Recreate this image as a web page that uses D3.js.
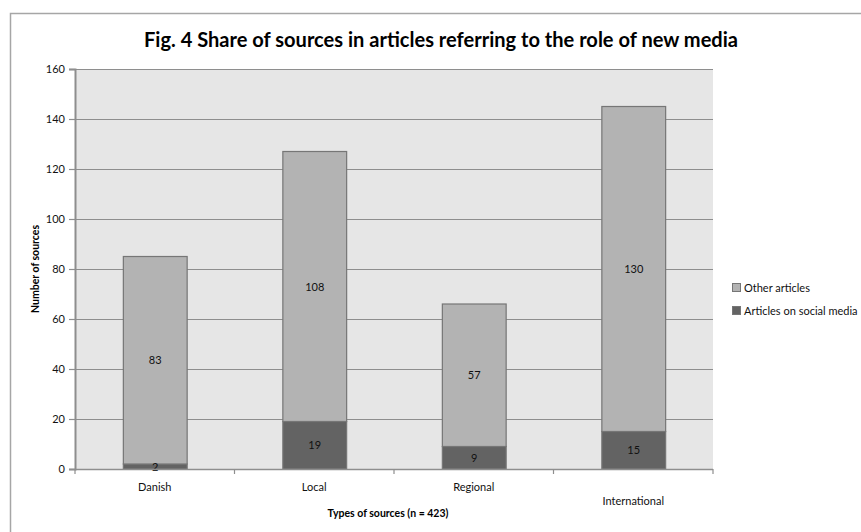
<!DOCTYPE html>
<html>
<head>
<meta charset="utf-8">
<script src="https://cdn.jsdelivr.net/npm/d3@7"></script>
<style>
  html, body { margin: 0; padding: 0; background: #ffffff; }
  svg { display: block; font-family: Lato, "Open Sans", sans-serif; }
</style>
</head>
<body>
<svg id="chart" width="861" height="532"></svg>
<script>
// Source types and counts per article group
const categories = ["Danish", "Local", "Regional", "International"];
const socialMedia = [2, 19, 9, 15];       // Articles on social media
const otherArticles = [83, 108, 57, 130]; // Other articles
const yTicks = [0, 20, 40, 60, 80, 100, 120, 140, 160];
const seriesNames = ["Other articles", "Articles on social media"];

const svg = d3.select("#chart");
const margin = { left: 75, right: 713, top: 69, bottom: 469 };

// Outer chart frame
svg.append("rect")
  .attr("x", 10.5).attr("y", 13.5)
  .attr("width", 900).attr("height", 600)
  .attr("fill", "none").attr("stroke", "#a6a6a6").attr("stroke-width", 1.5);

const x = d3.scaleBand().domain(categories)
  .range([margin.left, margin.right]).paddingInner(0.6).paddingOuter(0.3);
const xBand = d3.scaleBand().domain(categories)
  .range([margin.left, margin.right]);
const y = d3.scaleLinear().domain([0, 160]).range([margin.bottom, margin.top]);

// Plot background
svg.append("rect")
  .attr("x", margin.left).attr("y", margin.top)
  .attr("width", margin.right - margin.left).attr("height", margin.bottom - margin.top)
  .attr("fill", "#e6e6e6");

// Gridlines
svg.append("g").selectAll("line").data(yTicks.filter(d => d > 0)).join("line")
  .attr("x1", margin.left).attr("x2", margin.right)
  .attr("y1", d => Math.round(y(d)) + 0.5).attr("y2", d => Math.round(y(d)) + 0.5)
  .attr("stroke", "#8e8e8e").attr("stroke-width", 1.2);

// Stacked bars
const stackData = categories.map((c, i) => ({ cat: c, social: socialMedia[i], other: otherArticles[i] }));
const stack = d3.stack().keys(["social", "other"])(stackData);
const fills = { social: "#636363", other: "#b3b3b3" };

stack.forEach(layer => {
  svg.append("g").selectAll("rect").data(layer).join("rect")
    .attr("x", d => x(d.data.cat) + 0.5)
    .attr("y", d => y(d[1]))
    .attr("width", x.bandwidth())
    .attr("height", d => y(d[0]) - y(d[1]))
    .attr("fill", fills[layer.key])
    .attr("stroke", "#767676").attr("stroke-width", 1.2);
});

// Value labels inside segments
stack.forEach(layer => {
  svg.append("g").selectAll("text").data(layer).join("text")
    .attr("x", d => x(d.data.cat) + x.bandwidth() / 2 + 0.5)
    .attr("y", d => (y(d[0]) + y(d[1])) / 2 + 4)
    .attr("text-anchor", "middle")
    .attr("font-size", 11)
    .attr("fill", "#111")
    .text(d => d[1] - d[0]);
});

// Y axis
const yAxis = svg.append("g")
  .attr("transform", `translate(${margin.left},0)`)
  .call(d3.axisLeft(y).tickValues(yTicks).tickSize(6).tickPadding(4));
yAxis.select(".domain").attr("stroke", "#8e8e8e").attr("stroke-width", 2);
yAxis.selectAll(".tick line").attr("stroke", "#8e8e8e").attr("stroke-width", 1.2);
yAxis.selectAll(".tick text").attr("font-size", 11).attr("fill", "#111")
  .attr("font-family", "Lato, sans-serif");

// X axis: line with ticks at the category boundaries
const xAxisG = svg.append("g");
xAxisG.append("line")
  .attr("x1", margin.left).attr("x2", margin.right)
  .attr("y1", margin.bottom + 0.5).attr("y2", margin.bottom + 0.5)
  .attr("stroke", "#8e8e8e").attr("stroke-width", 1.5);
const boundaries = categories.map(c => xBand(c)).concat([margin.right]);
xAxisG.selectAll("line.tk").data(boundaries).join("line").attr("class", "tk")
  .attr("x1", d => d).attr("x2", d => d)
  .attr("y1", margin.bottom).attr("y2", margin.bottom + 5)
  .attr("stroke", "#8e8e8e").attr("stroke-width", 1.2);
xAxisG.selectAll("text").data(categories).join("text")
  .attr("x", d => xBand(d) + xBand.bandwidth() / 2)
  .attr("y", (d, i) => i === 3 ? 505 : 491)
  .attr("text-anchor", "middle")
  .attr("font-size", 11)
  .attr("fill", "#111")
  .text(d => d);

// Title
svg.append("text")
  .attr("x", 441).attr("y", 47)
  .attr("text-anchor", "middle")
  .attr("font-size", 20).attr("font-weight", "bold")
  .attr("fill", "#000")
  .attr("textLength", 594).attr("lengthAdjust", "spacingAndGlyphs")
  .text("Fig. 4 Share of sources in articles referring to the role of new media");

// Axis titles
svg.append("text")
  .attr("x", 388).attr("y", 517)
  .attr("text-anchor", "middle")
  .attr("font-size", 10.5).attr("font-weight", "bold").attr("fill", "#000")
  .text("Types of sources (n = 423)");

svg.append("text")
  .attr("transform", "translate(39,269) rotate(-90)")
  .attr("text-anchor", "middle")
  .attr("font-size", 10.5).attr("font-weight", "bold").attr("fill", "#000")
  .text("Number of sources");

// Legend
const legend = svg.append("g");
const legendFills = [fills.other, fills.social];
const legendY = [288, 311];
seriesNames.forEach((name, i) => {
  legend.append("rect")
    .attr("x", 732.5).attr("y", legendY[i] - 4.5)
    .attr("width", 8).attr("height", 8)
    .attr("fill", legendFills[i]).attr("stroke", "#767676").attr("stroke-width", 1);
  legend.append("text")
    .attr("x", 744).attr("y", legendY[i] + 4)
    .attr("font-size", 11).attr("fill", "#111")
    .text(name);
});
</script>
</body>
</html>
